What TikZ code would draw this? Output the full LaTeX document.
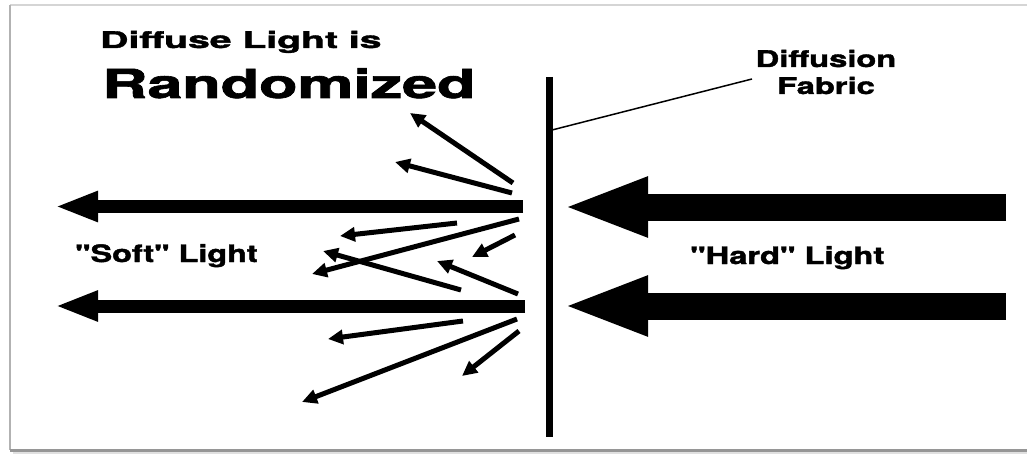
\documentclass[tikz,border=0pt]{standalone}
\usepackage{fontspec}
\setmainfont{TeX Gyre Heros}[Ligatures=TeXOff,BoldFeatures={FakeBold=1.5}]
\usetikzlibrary{arrows.meta}
\definecolor{framegray}{RGB}{178,178,178}
\definecolor{frameshade}{RGB}{150,150,150}
\newcommand{\stretchtext}[2]{\scalebox{#1}[1]{#2}}

\begin{document}
\begin{tikzpicture}[x=1pt,y=-1pt,
  beam/.style={line width=13pt,-{Triangle[length=43pt,width=28pt]}},
  hardbeam/.style={line width=27pt,-{Triangle[length=86pt,width=54pt]}},
  ray/.style={line width=5pt,-{Triangle[length=15pt,width=14pt]}}]
\path[use as bounding box] (0,0) rectangle (1027,457);
% framed picture
\draw[framegray!55,line width=1.5pt] (10,5) -- (1040,5);
\draw[framegray,line width=2pt] (10,5) -- (10,450);
\draw[frameshade,line width=3pt] (10,450) -- (1040,450);
\draw[framegray!40,line width=2pt] (13,453) -- (1040,453);
% headings
\node[anchor=base west,inner sep=0,font=\bfseries\fontsize{23}{27}\selectfont] (heading) at (100,48)
  {\stretchtext{1.70}{Diffuse Light is}};
\node[anchor=base west,inner sep=0,font=\bfseries\fontsize{40}{44}\selectfont] (randomized) at (102,98)
  {\stretchtext{1.57}{Randomized}};
\node[anchor=base,inner sep=0,font=\bfseries\fontsize{23}{27}\selectfont] (diffusion) at (826,67)
  {\stretchtext{1.42}{Diffusion}};
\node[anchor=base,inner sep=0,font=\bfseries\fontsize{23}{27}\selectfont] (fabric) at (826,94)
  {\stretchtext{1.42}{Fabric}};
\node[anchor=base west,inner sep=0,font=\bfseries\fontsize{24}{28}\selectfont] (soft) at (75,262)
  {\stretchtext{1.35}{"Soft" Light}};
\node[anchor=base west,inner sep=0,font=\bfseries\fontsize{24}{28}\selectfont] (hard) at (690,264)
  {\stretchtext{1.36}{"Hard" Light}};
% diffusion fabric and its leader
\coordinate (fabrictop) at (549,77);
\coordinate (fabricbottom) at (549,437);
\coordinate (leaderfoot) at (552,130);
\coordinate (leadertop) at (752,79);
\draw[line width=7pt] (fabrictop) -- (fabricbottom);
\draw[line width=1.5pt] (leaderfoot) -- (leadertop);
% incoming hard light
\draw[hardbeam] (1006,207) -- (562,207);
\draw[hardbeam] (1006,306) -- (562,306);
% outgoing soft light
\draw[beam] (523,206.5) -- (55,206.5);
\draw[beam] (525,306) -- (55,306);
% scattered rays
\foreach \xa/\ya/\xb/\yb in {513/183/410/113, 512/193/395/162, 457/223/340/236,
    519/219/312/274, 515/235/472/257, 461/290/323/251, 518/294/437/261,
    463/321/328/339, 517/319/302/402, 519/331/462/376}
  \draw[ray] (\xa,\ya) -- (\xb,\yb);
\end{tikzpicture}
\end{document}
